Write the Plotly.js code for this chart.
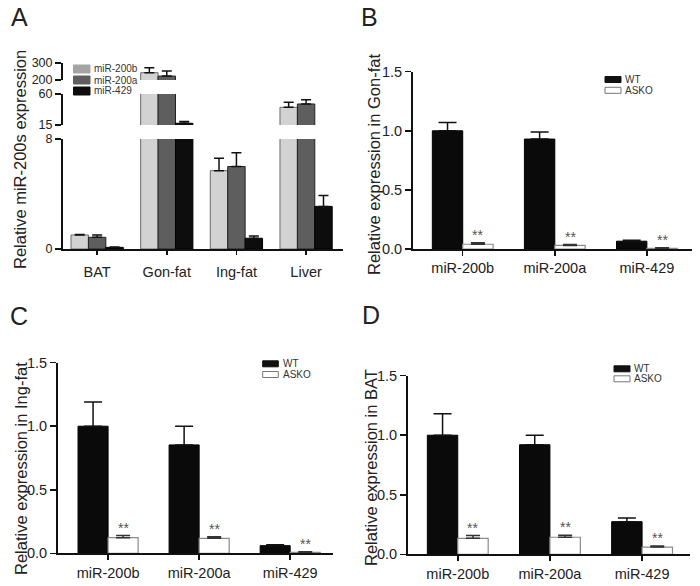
<!DOCTYPE html>
<html><head><meta charset="utf-8">
<script src="https://cdn.plot.ly/plotly-3.0.1.min.js"></script>
<style>html,body{margin:0;padding:0;background:#fff}#chart{width:700px;height:586px}</style>
</head><body><div id="chart"></div>
<script>
// ---------- Panel A data ----------
const tissues = ["BAT", "Gon-fat", "Ing-fat", "Liver"];
const seriesA = ["miR-200b", "miR-200a", "miR-429"];
const a_miR200b = [1.02, 243, 5.7, 40.7];
const a_miR200b_err = [0.04, 29, 0.9, 7.3];
const a_miR200a = [0.85, 223, 6.0, 45.5];
const a_miR200a_err = [0.17, 30, 1.0, 6.2];
const a_miR429 = [0.12, 17.5, 0.78, 3.1];
const a_miR429_err = [0.03, 2.5, 0.17, 0.8];
const a_segmentTicks = [[0, 8], [15, 60], [200, 300]];

// ---------- Panels B, C, D data ----------
const mirnas = ["miR-200b", "miR-200a", "miR-429"];
const groups = ["WT", "ASKO"];
const b_wt = [1.0, 0.93, 0.066];
const b_wt_err = [0.07, 0.06, 0.008];
const b_ko = [0.04, 0.03, 0.006];
const b_ko_err = [0.013, 0.008, 0.004];
const c_wt = [1.0, 0.853, 0.06];
const c_wt_err = [0.19, 0.147, 0.008];
const c_ko = [0.123, 0.118, 0.008];
const c_ko_err = [0.017, 0.012, 0.005];
const d_wt = [1.0, 0.92, 0.274];
const d_wt_err = [0.18, 0.08, 0.031];
const d_ko = [0.134, 0.143, 0.061];
const d_ko_err = [0.023, 0.017, 0.009];
const sigLabel = "**";

// ---------- styling ----------
const W = 700, H = 586;
const px = v => v / W, py = v => 1 - v / H;
const FONT = "Liberation Sans, Arial, sans-serif";
const TXT = "#222";
const colorsA = ["#d2d2d2", "#5e5e5e", "#0d0d0d"];
const edgesA = ["#6a6a6a", "#222", "#000"];
const legendColorsA = ["#a4a4a4", "#5e5e5e", "#0d0d0d"];
const wA = 0.25, offsA = [-1.5 * wA, -0.5 * wA, 0.5 * wA];
const wB = 0.33, offsB = [-wB, 0];

const traces = [];
const valsA = [a_miR200b, a_miR200a, a_miR429];
const errsA = [a_miR200b_err, a_miR200a_err, a_miR429_err];
["y", "y2", "y3"].forEach(seg => {
  valsA.forEach((v, k) => {
    traces.push({
      type: "bar", x: tissues, y: v, name: seriesA[k], xaxis: "x", yaxis: seg,
      width: wA, offset: offsA[k], showlegend: false, hoverinfo: "skip",
      marker: {color: colorsA[k], line: {color: edgesA[k], width: 1}},
      error_y: {type: "data", symmetric: false, array: errsA[k], arrayminus: v.map(() => 0),
                color: "#111", thickness: 1.5, width: 5}
    });
  });
});

const panels = [
  {xa: "x2", ya: "y4", wt: b_wt, wtErr: b_wt_err, ko: b_ko, koErr: b_ko_err},
  {xa: "x3", ya: "y5", wt: c_wt, wtErr: c_wt_err, ko: c_ko, koErr: c_ko_err},
  {xa: "x4", ya: "y6", wt: d_wt, wtErr: d_wt_err, ko: d_ko, koErr: d_ko_err}
];
const annotations = [];
panels.forEach(p => {
  [[p.wt, p.wtErr], [p.ko, p.koErr]].forEach((pair, g) => {
    traces.push({
      type: "bar", x: mirnas, y: pair[0], name: groups[g], xaxis: p.xa, yaxis: p.ya,
      width: wB, offset: offsB[g], showlegend: false, hoverinfo: "skip",
      marker: g === 0 ? {color: "#0a0a0a", line: {color: "#000", width: 1}}
                      : {color: "#ffffff", line: {color: "#8a8a8a", width: 1.2}},
      error_y: {type: "data", symmetric: false, array: pair[1], arrayminus: pair[0].map(() => 0),
                color: g === 0 ? "#111" : "#333", thickness: 1.5, width: g === 0 ? 9 : 7}
    });
  });
  p.ko.forEach((v, i) => {
    annotations.push({xref: p.xa, yref: p.ya, x: i + wB / 2, y: v + p.koErr[i], text: sigLabel,
      showarrow: false, yanchor: "middle", yshift: 8,
      font: {family: FONT, size: 14, color: "#555"}});
  });
});

// axes
const axBase = {showline: true, linecolor: "#111", linewidth: 2, ticks: "outside", tickcolor: "#111",
  tickwidth: 1.5, showgrid: false, zeroline: false, fixedrange: true,
  tickfont: {family: FONT, size: 14.5, color: TXT}};
const xCat = (dom, anchor, range, standoff) => Object.assign({}, axBase, {domain: dom, anchor: anchor,
  type: "category", range: range, ticklen: 5, ticklabelstandoff: standoff,
  tickfont: {family: FONT, size: 14.5, color: TXT}});
const ySeg = (dom, anchor, range, tv) => Object.assign({}, axBase, {domain: dom, anchor: anchor,
  range: range, tickvals: tv, ticktext: tv.map(String), ticklen: 6,
  tickfont: {family: FONT, size: 12.5, color: TXT}});
const yRel = (dom, anchor) => Object.assign({}, axBase, {domain: dom, anchor: anchor,
  range: [0, 1.5], tickvals: [0, 0.5, 1, 1.5], tickformat: ".1f", ticklen: 6});

const layout = {
  width: W, height: H, margin: {l: 0, r: 0, t: 0, b: 0},
  paper_bgcolor: "#fff", plot_bgcolor: "rgba(0,0,0,0)", barmode: "overlay",
  font: {family: FONT, color: TXT},
  xaxis: Object.assign(xCat([px(63), px(343)], "y", [-0.49, 3.53], 5), {ticklen: 4}),
  yaxis: ySeg([py(249), py(139)], "x", [0, 8], a_segmentTicks[0]),
  yaxis2: ySeg([py(125), py(94)], "x", [15, 60], a_segmentTicks[1]),
  yaxis3: ySeg([py(80), py(63)], "x", [200, 300], a_segmentTicks[2]),
  xaxis2: xCat([px(413), px(692)], "y4", [-0.54, 2.49], 0),
  yaxis4: yRel([py(249), py(71.7)], "x2"),
  xaxis3: xCat([px(58), px(333)], "y5", [-0.55, 2.47], 0),
  yaxis5: yRel([py(553.3), py(362.7)], "x3"),
  xaxis4: xCat([px(408), px(690)], "y6", [-0.54, 2.52], 0),
  yaxis6: yRel([py(554.3), py(375.7)], "x4"),
  shapes: [], annotations: annotations
};

// panel letters
[["A", 19.5, 17], ["B", 369.5, 17.5], ["C", 18.5, 316], ["D", 371, 314.5]].forEach(l => {
  annotations.push({xref: "paper", yref: "paper", x: px(l[1]), y: py(l[2]), text: l[0],
    showarrow: false, xanchor: "center", yanchor: "middle", font: {family: FONT, size: 25, color: TXT}});
});
// y titles
[["Relative miR-200s expression", 20, 160], ["Relative expression in Gon-fat", 374, 165],
 ["Relative expression in Ing-fat", 21, 469], ["Relative expression in BAT", 371, 468]].forEach(t => {
  annotations.push({xref: "paper", yref: "paper", x: px(t[1]), y: py(t[2]), text: t[0], textangle: -90,
    showarrow: false, xanchor: "center", yanchor: "middle", font: {family: FONT, size: 16.5, color: TXT}});
});

// legends (boxes + labels)
function legendEntry(x0, x1, yc, h, fill, edge, label, tx, fs) {
  layout.shapes.push({type: "rect", xref: "paper", yref: "paper", x0: px(x0), x1: px(x1),
    y0: py(yc + h / 2), y1: py(yc - h / 2), fillcolor: fill, line: {color: edge, width: 1}});
  annotations.push({xref: "paper", yref: "paper", x: px(tx), y: py(yc), text: label, showarrow: false,
    xanchor: "left", yanchor: "middle", font: {family: FONT, size: fs, color: "#333"}});
}
[69, 80, 91].forEach((yc, k) => legendEntry(73.5, 90, yc, 8, legendColorsA[k], legendColorsA[k], seriesA[k], 92, 10));
[[605, 621, 79.5, 90.3, 623], [262.7, 278.3, 363.8, 374.5, 281], [614, 630, 368.8, 378.8, 631.5]].forEach(L => {
  legendEntry(L[0], L[1], L[2], 6, "#111", "#111", groups[0], L[4], 10);
  legendEntry(L[0], L[1], L[3], 6, "#fff", "#777", groups[1], L[4], 10);
});

Plotly.newPlot("chart", traces, layout, {staticPlot: true, displayModeBar: false});
</script>
</body></html>
